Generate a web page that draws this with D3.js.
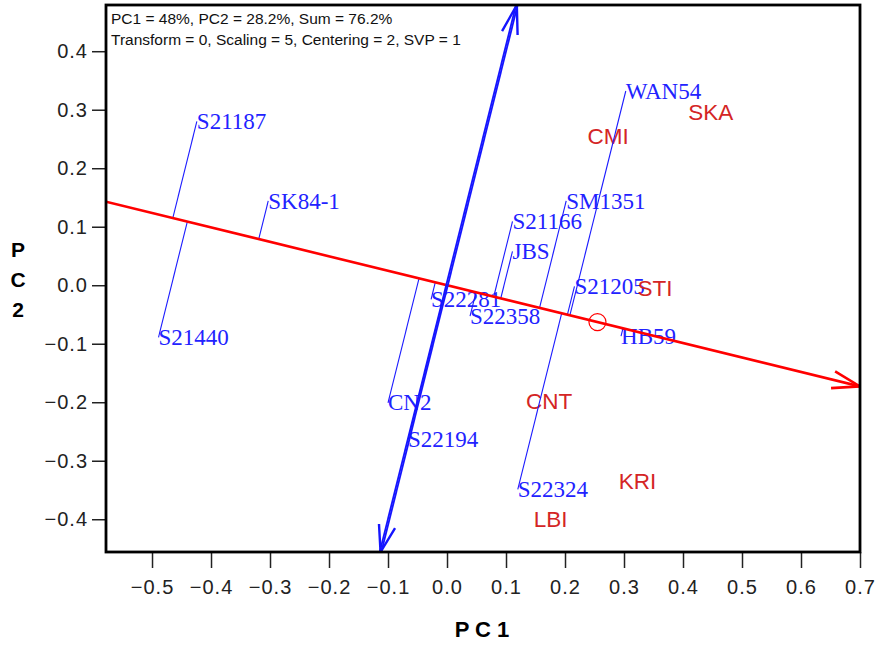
<!DOCTYPE html>
<html>
<head>
<meta charset="utf-8">
<script src="https://cdn.jsdelivr.net/npm/d3@7"></script>
<style>
  body { margin: 0; background: #fff; }
  svg { display: block; }
  .tick text { font-family: "Liberation Sans", Arial, sans-serif; font-size: 20px; letter-spacing: 1px; fill: #222; }
  .tick line { stroke: #222; stroke-width: 1.5px; }
</style>
</head>
<body>
<script>
// GGE biplot - ranking genotypes along the average environment axis

var width = 876,
    height = 645;

// genotypes (blue) - PC1 / PC2 scores
var genoNames = ["S21187", "SK84-1", "S21440", "S21166", "JBS", "SM1351", "WAN54", "S22281",
                 "S22358", "S21205", "HB59", "CN2", "S22194", "S22324"];
var genoPC1 = [-0.424, -0.303, -0.489, 0.111, 0.111, 0.202, 0.303, -0.027,
               0.039, 0.216, 0.295, -0.100, -0.066, 0.120];
var genoPC2 = [0.280, 0.144, -0.089, 0.109, 0.058, 0.144, 0.332, -0.024,
               -0.053, -0.002, -0.087, -0.201, -0.264, -0.349];

// environments (red)
var envNames = ["SKA", "CMI", "STI", "CNT", "KRI", "LBI"];
var envPC1 = [0.409, 0.238, 0.323, 0.134, 0.291, 0.147];
var envPC2 = [0.296, 0.256, -0.004, -0.197, -0.335, -0.400];

// average environment (small circle)
var avgEnv = [0.255, -0.063];

var xTicks = [-0.5, -0.4, -0.3, -0.2, -0.1, 0.0, 0.1, 0.2, 0.3, 0.4, 0.5, 0.6, 0.7];
var yTicks = [-0.4, -0.3, -0.2, -0.1, 0.0, 0.1, 0.2, 0.3, 0.4];
var xDomain = [-0.578, 0.7],
    yDomain = [-0.456, 0.479];

var headerLines = ["PC1 = 48%, PC2 = 28.2%, Sum = 76.2%",
                   "Transform = 0, Scaling = 5, Centering = 2, SVP = 1"];

var plot = {left: 106, right: 860, top: 5, bottom: 552};

var sans = '"Liberation Sans", Arial, sans-serif',
    serif = '"Liberation Serif", "Times New Roman", serif';

var svg = d3.select("body").append("svg")
    .attr("width", width)
    .attr("height", height);

var x = d3.scaleLinear().domain(xDomain).range([plot.left, plot.right]);
var y = d3.scaleLinear().domain(yDomain).range([plot.bottom, plot.top]);

// axes
svg.append("g")
    .attr("transform", "translate(0," + plot.bottom + ")")
    .call(d3.axisBottom(x).tickValues(xTicks).tickSize(16).tickPadding(12).tickFormat(d3.format(".1f")))
    .call(function(g) { g.select(".domain").remove(); });

svg.append("g")
    .attr("transform", "translate(" + plot.left + ",0)")
    .call(d3.axisLeft(y).tickValues(yTicks).tickSize(14).tickPadding(4).tickFormat(d3.format(".1f")))
    .call(function(g) { g.select(".domain").remove(); });

// axis titles
svg.append("text")
    .attr("x", 482).attr("y", 637)
    .attr("text-anchor", "middle")
    .style("font-family", sans).style("font-weight", "bold").style("font-size", "22px")
    .text("P C 1");

svg.append("g").selectAll("text")
    .data(["P", "C", "2"])
    .enter().append("text")
    .attr("x", 18)
    .attr("y", function(d, i) { return 257 + i * 29.8; })
    .attr("text-anchor", "middle")
    .style("font-family", sans).style("font-weight", "bold").style("font-size", "21px")
    .text(function(d) { return d; });

svg.append("clipPath").attr("id", "clip")
    .append("rect")
    .attr("x", plot.left).attr("y", plot.top)
    .attr("width", plot.right - plot.left).attr("height", plot.bottom - plot.top);

var g = svg.append("g").attr("clip-path", "url(#clip)");

// header text
g.selectAll(".hdr")
    .data(headerLines)
    .enter().append("text")
    .attr("class", "hdr")
    .attr("x", 111)
    .attr("y", function(d, i) { return 24 + i * 21; })
    .style("font-family", sans).style("font-size", "15.5px").style("fill", "#111")
    .text(function(d) { return d; });

var genos = genoNames.map(function(n, i) { return {name: n, pc1: genoPC1[i], pc2: genoPC2[i]}; });
var envs = envNames.map(function(n, i) { return {name: n, pc1: envPC1[i], pc2: envPC2[i]}; });

// unit vector of the average environment axis
var len = Math.sqrt(avgEnv[0] * avgEnv[0] + avgEnv[1] * avgEnv[1]);
var u = [avgEnv[0] / len, avgEnv[1] / len];
function proj(d) {
    var t = d.pc1 * u[0] + d.pc2 * u[1];
    return [t * u[0], t * u[1]];
}

// labels
g.selectAll(".geno")
    .data(genos)
    .enter().append("text")
    .attr("class", "geno")
    .attr("x", function(d) { return x(d.pc1); })
    .attr("y", function(d) { return y(d.pc2); })
    .attr("dy", "0.33em")
    .style("font-family", serif).style("font-size", "23px").style("fill", "#2222ff")
    .text(function(d) { return d.name; });

g.selectAll(".env")
    .data(envs)
    .enter().append("text")
    .attr("class", "env")
    .attr("x", function(d) { return x(d.pc1); })
    .attr("y", function(d) { return y(d.pc2); })
    .attr("dy", "0.36em")
    .style("font-family", sans).style("font-size", "22.5px").style("fill", "#d42525")
    .text(function(d) { return d.name; });

// leader lines from genotypes to the axis
g.selectAll(".lead")
    .data(genos)
    .enter().append("line")
    .attr("class", "lead")
    .attr("x1", function(d) { return x(d.pc1); })
    .attr("y1", function(d) { return y(d.pc2); })
    .attr("x2", function(d) { return x(proj(d)[0]); })
    .attr("y2", function(d) { return y(proj(d)[1]); })
    .style("stroke", "#1a1aff").style("stroke-width", 1.1);

function arrowHead(tip, from, size, spread) {
    var a = Math.atan2(from[1] - tip[1], from[0] - tip[0]);
    var p1 = [tip[0] + size * Math.cos(a + spread), tip[1] + size * Math.sin(a + spread)];
    var p2 = [tip[0] + size * Math.cos(a - spread), tip[1] + size * Math.sin(a - spread)];
    return "M" + p1 + "L" + tip + "L" + p2;
}

// red average environment axis
var slope = avgEnv[1] / avgEnv[0];
var redA = [x(xDomain[0]), y(xDomain[0] * slope)],
    redB = [x(xDomain[1]), y(xDomain[1] * slope)];
g.append("path")
    .attr("d", "M" + redA + "L" + redB)
    .style("stroke", "red").style("stroke-width", 2.6).style("fill", "none");
g.append("path")
    .attr("d", arrowHead(redB, redA, 29, 0.3))
    .style("stroke", "red").style("stroke-width", 2.6).style("fill", "none");

// blue ordinate, perpendicular through the origin
var perp = -avgEnv[0] / avgEnv[1];
var blueT = [x(yDomain[1] / perp), y(yDomain[1])],
    blueB = [x(yDomain[0] / perp), y(yDomain[0])];
[-0.8, 0.8].forEach(function(off) {
    g.append("path")
        .attr("d", "M" + [blueB[0] + off, blueB[1]] + "L" + [blueT[0] + off, blueT[1]])
        .style("stroke", "#1515ff").style("stroke-width", 1.8).style("fill", "none");
});
g.append("path")
    .attr("d", arrowHead(blueT, blueB, 30, 0.27))
    .style("stroke", "#1515ff").style("stroke-width", 2.4).style("fill", "none");
g.append("path")
    .attr("d", arrowHead(blueB, blueT, 28, 0.3))
    .style("stroke", "#1515ff").style("stroke-width", 2.4).style("fill", "none");

// average environment circle
g.append("circle")
    .attr("cx", x(avgEnv[0])).attr("cy", y(avgEnv[1]))
    .attr("r", 8.5)
    .style("fill", "none").style("stroke", "red").style("stroke-width", 1.2);

// frame
svg.append("rect")
    .attr("x", plot.left).attr("y", plot.top)
    .attr("width", plot.right - plot.left).attr("height", plot.bottom - plot.top)
    .style("fill", "none").style("stroke", "#000").style("stroke-width", 2.8);
</script>
</body>
</html>
